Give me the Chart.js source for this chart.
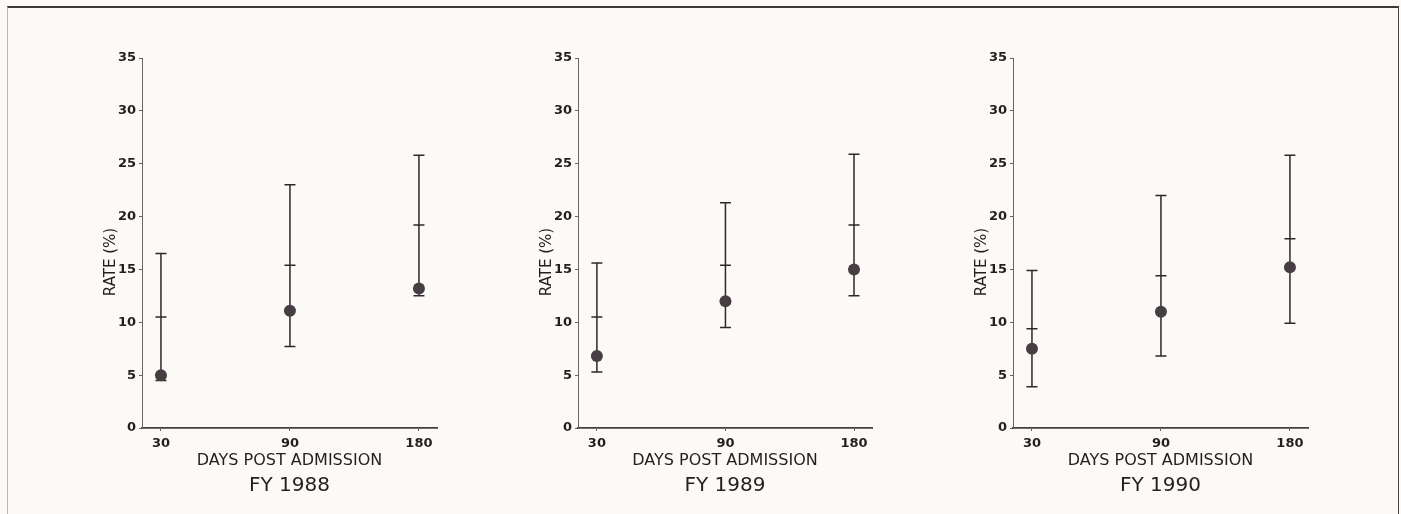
<!DOCTYPE html>
<html>
<head>
<meta charset="utf-8">
<script src="https://cdn.jsdelivr.net/npm/chart.js@4.4.1/dist/chart.umd.min.js"></script>
<style>
  html, body { margin: 0; padding: 0; background: #fbfaf6; }
  #page { position: relative; width: 1401px; height: 514px; overflow: hidden; background: #fbfaf6; }
  #frame { position: absolute; left: 7px; top: 6px; width: 1390px; height: 520px;
           border-top: 2px solid #3d3a3b; border-left: 1px solid #b8b6b3; border-right: 1.5px solid #4a4647; }
  .pane { position: absolute; top: 0; height: 514px; }
  .pane canvas { display: block; }
</style>
</head>
<body>
<div id="page">
  <div id="frame"></div>
  <div class="pane" style="left:0px;width:467px"><canvas id="c1" width="467" height="514"></canvas></div>
  <div class="pane" style="left:467px;width:467px"><canvas id="c2" width="467" height="514"></canvas></div>
  <div class="pane" style="left:934px;width:467px"><canvas id="c3" width="467" height="514"></canvas></div>
</div>
<script>
// ---- Data ----
const days = ['30', '90', '180'];
const yTicks = [0, 5, 10, 15, 20, 25, 30, 35];
const panelTitles = ['FY 1988', 'FY 1989', 'FY 1990'];

const rate1988  = [5.0, 11.1, 13.2];
const upper1988 = [16.5, 23.0, 25.8];
const mid1988   = [10.5, 15.4, 19.2];
const lower1988 = [4.5, 7.7, 12.5];

const rate1989  = [6.8, 12.0, 15.0];
const upper1989 = [15.6, 21.3, 25.9];
const mid1989   = [10.5, 15.4, 19.2];
const lower1989 = [5.3, 9.5, 12.5];

const rate1990  = [7.5, 11.0, 15.2];
const upper1990 = [14.9, 22.0, 25.8];
const mid1990   = [9.4, 14.4, 17.9];
const lower1990 = [3.9, 6.8, 9.9];

const INK = '#231e20';
const DOT = '#463e42';

const errorBars = {
  id: 'errorBars',
  beforeDatasetsDraw(chart, args, opts) {
    const {ctx} = chart;
    const xs = chart.scales.x, ys = chart.scales.y;
    ctx.save();
    ctx.strokeStyle = '#2e282a';
    ctx.lineWidth = 1.5;
    const half = 5.5;
    days.forEach((d, i) => {
      const px = xs.getPixelForValue(i);
      const pu = ys.getPixelForValue(opts.upper[i]);
      const pl = ys.getPixelForValue(opts.lower[i]);
      const pm = ys.getPixelForValue(opts.mid[i]);
      ctx.beginPath();
      ctx.moveTo(px, pu); ctx.lineTo(px, pl);
      ctx.moveTo(px - half, pu); ctx.lineTo(px + half, pu);
      ctx.moveTo(px - half, pl); ctx.lineTo(px + half, pl);
      ctx.moveTo(px - half, pm); ctx.lineTo(px + half, pm);
      ctx.stroke();
    });
    ctx.restore();
  }
};

const yTitle = {
  id: 'yTitle',
  afterDraw(chart, args, opts) {
    const {ctx, chartArea} = chart;
    ctx.save();
    ctx.translate(chartArea.left - 31, 262);
    ctx.rotate(-Math.PI / 2);
    ctx.font = '15px "DejaVu Sans"';
    ctx.fillStyle = INK;
    ctx.textAlign = 'center';
    ctx.textBaseline = 'middle';
    ctx.fillText(opts.text, 0, 0);
    ctx.restore();
  }
};

function makePanel(id, title, rate, upper, mid, lower, padL, padR) {
  const pts = rate.map((v, i) => ({x: i, y: v}));
  new Chart(document.getElementById(id), {
    type: 'scatter',
    data: { datasets: [{ data: pts, pointRadius: 6, pointBackgroundColor: DOT, pointBorderColor: DOT, pointBorderWidth: 0 }] },
    options: {
      responsive: false,
      animation: false,
      events: [],
      layout: { padding: { left: padL, right: padR, top: 58, bottom: 16 } },
      plugins: {
        legend: { display: false },
        tooltip: { enabled: false },
        title: {
          display: true, text: title, position: 'bottom', fullSize: false,
          color: INK, font: { family: 'DejaVu Sans', size: 20, weight: 'normal' },
          padding: { top: 4, bottom: 0 }
        },
        errorBars: { upper, mid, lower },
        yTitle: { text: 'RATE (%)' }
      },
      scales: {
        x: {
          type: 'linear', min: -0.147, max: 2.14,
          afterBuildTicks: (s) => { s.ticks = days.map((d, i) => ({ value: i })); },
          afterFit: (s) => { s.height = 42; },
          ticks: { callback: (v) => days[v], color: INK, padding: 5,
                   font: { family: 'DejaVu Sans', size: 13, weight: 'bold' }, maxRotation: 0, autoSkip: false },
          grid: { display: true, drawOnChartArea: false, drawTicks: true, tickLength: 3, color: '#6a6466' },
          border: { display: true, color: '#463f42', width: 1.7 },
          title: { display: true, text: 'DAYS POST ADMISSION', color: INK,
                   font: { family: 'DejaVu Sans', size: 16 }, padding: { top: 0, bottom: 0 } }
        },
        y: {
          min: 0, max: 35,
          afterBuildTicks: (s) => { s.ticks = yTicks.map(v => ({ value: v })); },
          afterFit: (s) => { s.width = 50; },
          ticks: { color: INK, padding: 3, font: { family: 'DejaVu Sans', size: 13, weight: 'bold' } },
          grid: { display: true, drawOnChartArea: false, drawTicks: true, tickLength: 3, color: '#6a6466' },
          border: { display: true, color: '#6a6466', width: 1 }
        }
      }
    },
    plugins: [errorBars, yTitle]
  });
}

makePanel('c1', panelTitles[0], rate1988, upper1988, mid1988, lower1988, 92, 30);
makePanel('c2', panelTitles[1], rate1989, upper1989, mid1989, lower1989, 61, 62);
makePanel('c3', panelTitles[2], rate1990, upper1990, mid1990, lower1990, 29, 93);
</script>
</body>
</html>
